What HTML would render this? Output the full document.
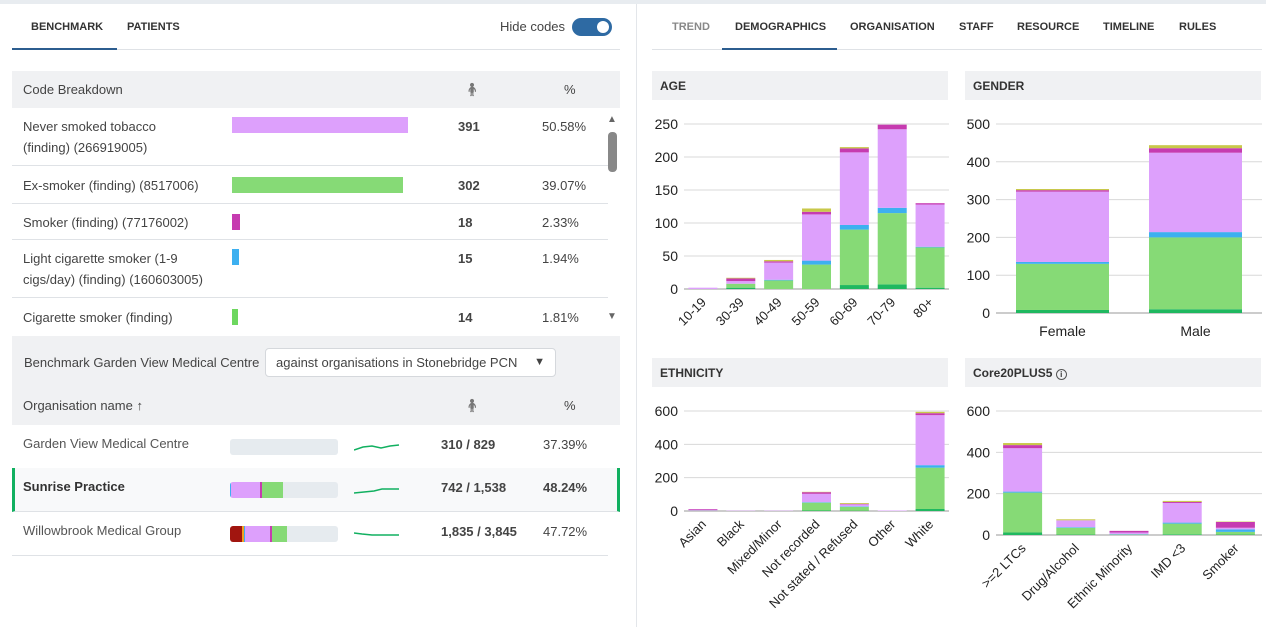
<!DOCTYPE html>
<html><head><meta charset="utf-8">
<style>
*{box-sizing:border-box;margin:0;padding:0}
body{width:1266px;height:627px;background:#fff;font-family:"Liberation Sans",sans-serif;color:#333;position:relative;overflow:hidden;font-size:13px}
.abs{position:absolute}
.tab{position:absolute;top:21px;font-size:11px;font-weight:bold;color:#333}
.hdr{position:absolute;background:#f0f1f3;font-size:12px;font-weight:bold;color:#333;padding:8px 8px}
.row{position:absolute;left:12px;width:596px;border-bottom:1px solid #dfe2e6}
.t{position:absolute;font-size:13px;color:#444;line-height:21px;white-space:nowrap}
.b{font-weight:bold}
</style></head><body>
<div class="abs" style="left:0;top:0;width:1266px;height:4px;background:#e8ecf0"></div>
<!-- Left panel -->
<div class="tab" style="left:31px">BENCHMARK</div>
<div class="tab" style="left:127px">PATIENTS</div>
<div class="abs" style="left:12px;top:49px;width:608px;height:1px;background:#dfe2e6"></div>
<div class="abs" style="left:12px;top:48px;width:105px;height:2px;background:#2c5d8f"></div>
<div class="t" style="left:500px;top:16px">Hide codes</div>
<div class="abs" style="left:572px;top:18px;width:40px;height:18px;border-radius:9px;background:#2e6aa3"><div style="position:absolute;right:3px;top:3px;width:12px;height:12px;border-radius:6px;background:#fff"></div></div>
<div class="abs" style="left:636px;top:4px;width:1px;height:623px;background:#e3e6ea"></div>

<div class="abs" style="left:12px;top:71px;width:608px;height:37px;background:#f0f1f3"></div>
<div class="t" style="left:23px;top:79px">Code Breakdown</div>
<div class="t" style="left:464px;top:79px;color:#777">&#x1F9CD;&#xFE0E;</div>
<div class="t" style="left:564px;top:79px">%</div>

<div id="codes"></div>
<div class="abs" style="left:608px;top:132px;width:9px;height:40px;border-radius:4px;background:#888"></div>
<div class="abs" style="left:607px;top:114px;font-size:10px;color:#666">▲</div>
<div class="abs" style="left:607px;top:311px;font-size:10px;color:#666">▼</div>

<div class="abs" style="left:12px;top:336px;width:608px;height:89px;background:#f0f1f3"></div>
<div class="t" style="left:24px;top:352px">Benchmark Garden View Medical Centre</div>
<div class="abs" style="left:265px;top:348px;width:291px;height:29px;background:#fff;border:1px solid #d5d8dc;border-radius:4px"><span class="t" style="left:10px;top:3px">against organisations in Stonebridge PCN</span><span style="position:absolute;right:10px;top:7px;font-size:11px;color:#444">▼</span></div>
<div class="t" style="left:23px;top:395px">Organisation name ↑</div>
<div class="t" style="left:464px;top:395px;color:#777">&#x1F9CD;&#xFE0E;</div>
<div class="t" style="left:564px;top:395px">%</div>
<div id="orgs"></div>

<!-- Right panel -->
<div class="tab" style="left:672px;color:#888">TREND</div>
<div class="tab" style="left:735px">DEMOGRAPHICS</div>
<div class="tab" style="left:850px">ORGANISATION</div>
<div class="tab" style="left:959px">STAFF</div>
<div class="tab" style="left:1017px">RESOURCE</div>
<div class="tab" style="left:1103px">TIMELINE</div>
<div class="tab" style="left:1179px">RULES</div>
<div class="abs" style="left:652px;top:49px;width:610px;height:1px;background:#dfe2e6"></div>
<div class="abs" style="left:722px;top:48px;width:115px;height:2px;background:#2c5d8f"></div>

<div class="hdr" style="left:652px;top:71px;width:296px;height:29px">AGE</div>
<div class="hdr" style="left:965px;top:71px;width:296px;height:29px">GENDER</div>
<div class="hdr" style="left:652px;top:358px;width:296px;height:29px">ETHNICITY</div>
<div class="hdr" style="left:965px;top:358px;width:296px;height:29px">Core20PLUS5 <span style="display:inline-block;width:11px;height:11px;border:1px solid #555;border-radius:6px;font-size:8px;text-align:center;line-height:10px">i</span></div>

<svg id="charts" class="abs" style="left:0;top:0" width="1266" height="627"></svg>

<script>
// Code breakdown data
const codeNames=["Never smoked tobacco|(finding) (266919005)","Ex-smoker (finding) (8517006)","Smoker (finding) (77176002)","Light cigarette smoker (1-9|cigs/day) (finding) (160603005)","Cigarette smoker (finding)"];
const codeCounts=[391,302,18,15,14];
const codePcts=["50.58%","39.07%","2.33%","1.94%","1.81%"];
const codeColors=["#dda0fc","#86da76","#c63bb0","#3db0f0","#6dd75f"];
const rowTops=[108,166,204,240,298,336];
const codes=document.getElementById('codes');
codeCounts.forEach((c,i)=>{
  const top=rowTops[i],h=rowTops[i+1]-top;
  const r=document.createElement('div');r.className='row';
  
  
  r.style.top=top+'px';r.style.height=h+'px';
  const lines=codeNames[i].split('|');
  const tt=(h-21*lines.length)/2;
  const w=i==1?c/302*171:c/391*176;
  r.innerHTML=`<div class="t" style="left:11px;top:${tt}px">${lines.join('<br>')}</div>
  <div style="position:absolute;left:220px;top:${lines.length>1?9:(h-16)/2}px;height:16px;width:${w}px;background:${codeColors[i]}"></div>
  <div class="t b" style="left:446px;top:${tt}px">${c}</div>
  <div class="t" style="left:530px;top:${tt}px">${codePcts[i]}</div>`;
  if(i==4)r.style.borderBottom='none';
  codes.appendChild(r);
});
// Orgs
const orgNames=["Garden View Medical Centre","Sunrise Practice","Willowbrook Medical Group"];
const orgCounts=["310 / 829","742 / 1,538","1,835 / 3,845"];
const orgPcts=["37.39%","48.24%","47.72%"];
const orgSegs=[[],[["#3db0f0",1],["#dda0fc",27],["#c63bb0",2],["#86da76",19]],[["#a1150f",11],["#f0a020",2],["#3db0f0",1],["#dda0fc",23],["#c63bb0",2],["#86da76",14]]];
const sparkA=[[0,5],[9,2],[18,1],[27,3],[36,1],[45,0]];
const sparkB=[[0,5],[10,4],[20,3],[28,1],[36,1],[45,1]];
const sparkC=[[0,1],[8,2],[18,3],[28,3],[45,3]];
const sparks=[sparkA,sparkB,sparkC];
const oTops=[425,468,512];
const orgs=document.getElementById('orgs');
orgNames.forEach((n,i)=>{
  const r=document.createElement('div');r.className='row';
  
  
  r.style.top=oTops[i]+'px';r.style.height='44px';
  if(i==1){r.style.background='#f8f9fa';r.style.borderLeft='3px solid #11b060';r.style.borderRight='3px solid #11b060';r.style.width='608px';}
  let seg='';let x=0;orgSegs[i].forEach(s=>{seg+=`<div style="position:absolute;left:${x}%;top:0;height:16px;width:${s[1]}%;background:${s[0]}"></div>`;x+=s[1];});
  const off=i==1?-3:0;
  const pts=sparks[i].map(p=>p[0]+','+(p[1]+2)).join(' ');
  r.innerHTML=`<div class="t ${i==1?'b':''}" style="left:${11+off}px;top:8px;color:${i==1?'#333':'#555'}">${n}</div>
  <div style="position:absolute;left:${218+off}px;top:14px;width:108px;height:16px;background:#e6ebef;border-radius:3px;overflow:hidden">${seg}</div>
  <svg style="position:absolute;left:${342+off}px;top:18px" width="47" height="10"><polyline points="${pts}" fill="none" stroke="#11b060" stroke-width="1.5"/></svg>
  <div class="t b" style="left:${429+off}px;top:9px">${orgCounts[i]}</div>
  <div class="t ${i==1?'b':''}" style="left:${531+off}px;top:9px">${orgPcts[i]}</div>`;
  orgs.appendChild(r);
});
</script>
<script>
// Chart data (series stacked bottom->top)
const seriesColors=["#20b860","#86da76","#3db0f0","#dda0fc","#c63bb0","#c8c84a"];
const ageCats=["10-19","30-39","40-49","50-59","60-69","70-79","80+"];
const ageDark=[0,2,0,0,6,7,2];
const ageGreen=[0,6,13,37,84,108,61];
const ageBlue=[0,0,1,6,7,8,1];
const agePurple=[2,4,26,70,110,119,64];
const ageMagenta=[0,4,2,4,6,7,2];
const ageYellow=[0,1,2,5,2,0,0];
const ageTicks=[0,50,100,150,200,250];
const genderCats=["Female","Male"];
const genderDark=[8,10];
const genderGreen=[122,190];
const genderBlue=[5,14];
const genderPurple=[186,210];
const genderMagenta=[4,12];
const genderYellow=[3,8];
const genderTicks=[0,100,200,300,400,500];
const ethCats=["Asian","Black","Mixed/Minor","Not recorded","Not stated / Refused","Other","White"];
const ethDark=[0,0,0,3,2,0,12];
const ethGreen=[2,0,0,47,23,0,248];
const ethBlue=[0,0,0,3,3,0,15];
const ethPurple=[6,2,2,50,12,3,300];
const ethMagenta=[4,0,0,10,3,0,12];
const ethYellow=[0,0,0,2,5,0,8];
const ethTicks=[0,200,400,600];
const coreCats=[">=2 LTCs","Drug/Alcohol","Ethnic Minority","IMD <3","Smoker"];
const coreDark=[12,2,0,3,2];
const coreGreen=[193,33,2,52,13];
const coreBlue=[5,3,2,5,12];
const corePurple=[210,33,8,95,8];
const coreMagenta=[15,0,8,5,28];
const coreYellow=[10,5,0,5,2];
const coreTicks=[0,200,400,600];

const svg=document.getElementById('charts');
const NS='http://www.w3.org/2000/svg';
function el(tag,a){const e=document.createElementNS(NS,tag);for(const k in a)e.setAttribute(k,a[k]);svg.appendChild(e);return e;}
function chart(name,cats,series,ticks,box,bw,rot){
  const max=ticks[ticks.length-1];
  const y=v=>box.y0-(v/max)*(box.y0-box.y1);
  const step=(box.x1-box.x0)/cats.length;
  const xc=i=>box.x0+step*(i+0.5);
  ticks.forEach(t=>{
    const l=el('line',{x1:box.x0,x2:box.x1,y1:y(t),y2:y(t),stroke:t==0?'#999':'#d8d8d8','stroke-width':1});
    
    
    const tx=el('text',{x:box.x0-6,y:y(t)+5,'text-anchor':'end','font-size':14,fill:'#222','font-family':'Liberation Sans, sans-serif'});
    tx.textContent=t;
    
    
  });
  cats.forEach((c,i)=>{
    let acc=0;
    series.forEach((s,k)=>{
      const v=s[i];if(!v)return;
      const r=el('rect',{x:xc(i)-bw/2,y:y(acc+v),width:bw,height:y(acc)-y(acc+v),fill:seriesColors[k]});
      
      
      acc+=v;
    });
    const ly=box.y0+14;
    const tx=el('text',{x:xc(i)+(rot?4:0),y:ly,'text-anchor':rot?'end':'middle','font-size':rot?13:14,fill:'#222','font-family':'Liberation Sans, sans-serif',transform:rot?`rotate(-45 ${xc(i)+4} ${ly})`:''});
    if(!rot)tx.setAttribute('y',box.y0+23);
    tx.textContent=c;
    
    
  });
}
chart('age',ageCats,[ageDark,ageGreen,ageBlue,agePurple,ageMagenta,ageYellow],ageTicks,{x0:684,x1:949,y0:289,y1:124},29,true);
chart('gender',genderCats,[genderDark,genderGreen,genderBlue,genderPurple,genderMagenta,genderYellow],genderTicks,{x0:996,x1:1262,y0:313,y1:124},93,false);
chart('ethnicity',ethCats,[ethDark,ethGreen,ethBlue,ethPurple,ethMagenta,ethYellow],ethTicks,{x0:684,x1:949,y0:511,y1:411},29,true);
chart('core20',coreCats,[coreDark,coreGreen,coreBlue,corePurple,coreMagenta,coreYellow],coreTicks,{x0:996,x1:1262,y0:535,y1:411},39,true);
</script>
</body></html>
